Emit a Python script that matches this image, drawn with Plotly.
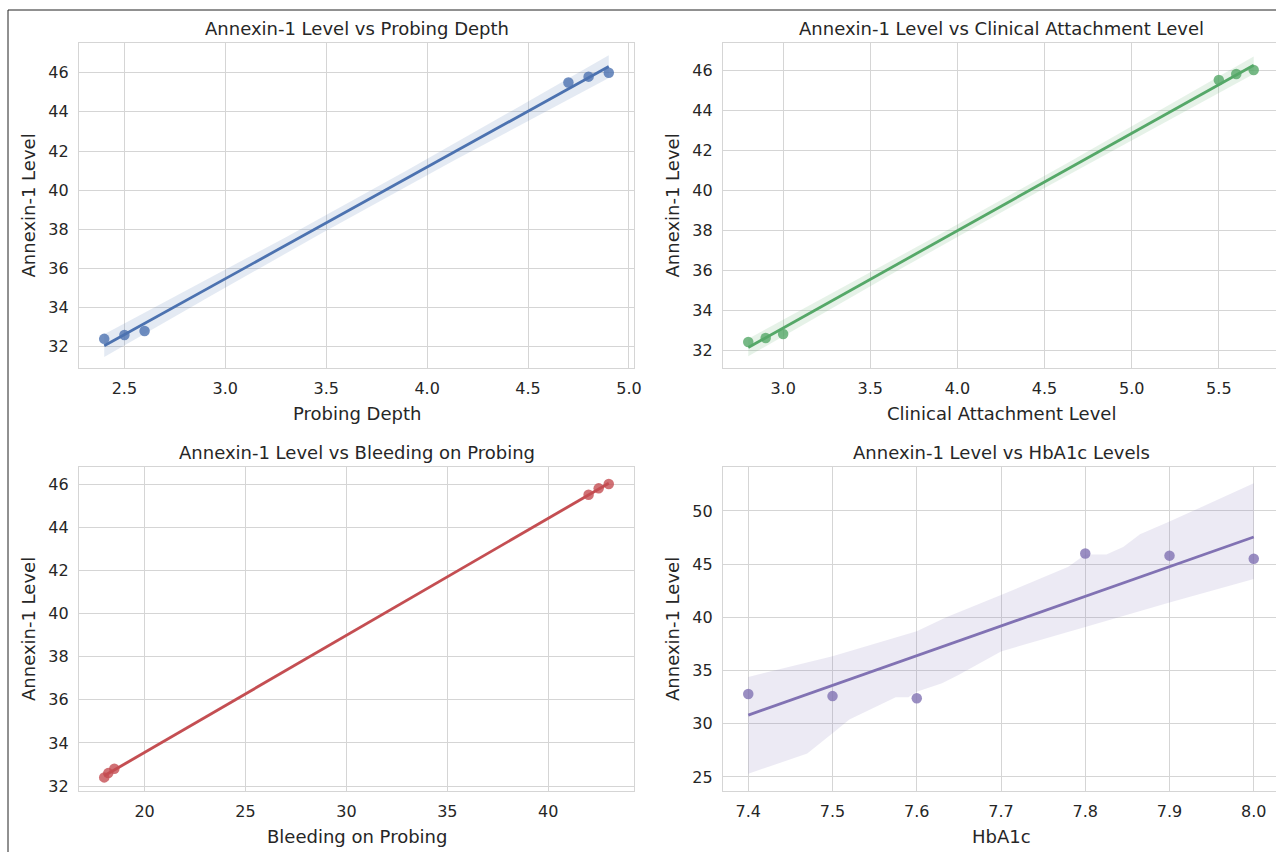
import numpy as np
import plotly.graph_objects as go

# ---------------- data ----------------
annexin = [32.4, 32.6, 32.8, 45.5, 45.8, 46.0]
probing_depth = [2.4, 2.5, 2.6, 4.7, 4.8, 4.9]
clinical_attachment = [2.8, 2.9, 3.0, 5.5, 5.6, 5.7]
bleeding_on_probing = [18.0, 18.2, 18.5, 42.0, 42.5, 43.0]
hba1c = [7.6, 7.5, 7.4, 8.0, 7.9, 7.8]

# confidence band of the HbA1c panel (bootstrap shaped)
hba1c_band_x_upper = [7.4, 7.5, 7.6, 7.635, 7.7, 7.78, 7.8, 7.825, 7.845, 7.865, 7.9, 8.0]
hba1c_band_upper = [34.4, 36.35, 38.7, 40.0, 42.1, 44.75, 45.9, 45.9, 46.6, 47.8, 49.0, 52.6]
hba1c_band_x_lower = [7.4, 7.47, 7.5, 7.52, 7.575, 7.59, 7.6, 7.63, 7.65, 7.7, 7.8, 7.9, 8.0]
hba1c_band_lower = [25.3, 27.2, 29.1, 30.4, 32.5, 32.5, 33.0, 33.8, 34.6, 36.8, 39.1, 41.4, 43.6]

titles = ["Annexin-1 Level vs Probing Depth",
          "Annexin-1 Level vs Clinical Attachment Level",
          "Annexin-1 Level vs Bleeding on Probing",
          "Annexin-1 Level vs HbA1c Levels"]
xlabels = ["Probing Depth", "Clinical Attachment Level", "Bleeding on Probing", "HbA1c"]
ylabel = "Annexin-1 Level"

colors = ["#4C72B0", "#55A868", "#C44E52", "#8172B3"]
fills = ["rgba(76,114,176,0.15)", "rgba(85,168,104,0.15)",
         "rgba(196,78,82,0.15)", "rgba(129,114,179,0.15)"]

x_ticks = [[2.5, 3.0, 3.5, 4.0, 4.5, 5.0],
           [3.0, 3.5, 4.0, 4.5, 5.0, 5.5],
           [20, 25, 30, 35, 40],
           [7.4, 7.5, 7.6, 7.7, 7.8, 7.9, 8.0]]
x_fmt = [".1f", ".1f", "d", ".1f"]
y_ticks = [[32, 34, 36, 38, 40, 42, 44, 46]] * 3 + [[25, 30, 35, 40, 45, 50]]
x_ranges = [[2.275, 5.025], [2.655, 5.828], [16.75, 44.25], [7.37, 8.0264]]
y_ranges = [[30.91, 47.52], [31.1, 47.35], [31.77, 46.79], [23.68, 54.13]]

W, H = 1276, 852
# axes boxes in pixels: (left, right, top, bottom)
boxes = [(79, 634, 43, 368), (723, 1276, 43, 368),
         (79, 634, 467, 791), (723, 1276, 467, 791)]

T_CRIT = 2.7764  # Student t, 97.5 %, 4 degrees of freedom


def fit_band(x, y, n=100):
    x = np.asarray(x, float)
    y = np.asarray(y, float)
    slope, intercept = np.polyfit(x, y, 1)
    xs = np.linspace(x.min(), x.max(), n)
    yhat = intercept + slope * xs
    resid = y - (intercept + slope * x)
    s = np.sqrt(np.sum(resid ** 2) / (len(x) - 2))
    sxx = np.sum((x - x.mean()) ** 2)
    se = s * np.sqrt(1.0 / len(x) + (xs - x.mean()) ** 2 / sxx)
    return xs, yhat, yhat + T_CRIT * se, yhat - T_CRIT * se


xdata = [probing_depth, clinical_attachment, bleeding_on_probing, hba1c]

fig = go.Figure()
font_family = "DejaVu Sans"
txt = "#262626"
grid = "#d5d5d5"

annotations = []
for i in range(4):
    ax = "" if i == 0 else str(i + 1)
    xa, ya = "x" + ax, "y" + ax
    xs, yhat, up, lo = fit_band(xdata[i], annexin)
    if i == 3:
        bx = list(hba1c_band_x_upper) + list(hba1c_band_x_lower)[::-1]
        by = list(hba1c_band_upper) + list(hba1c_band_lower)[::-1]
    else:
        bx = list(xs) + list(xs[::-1])
        by = list(up) + list(lo[::-1])
    fig.add_trace(go.Scatter(x=bx, y=by, fill="toself", fillcolor=fills[i],
                             line=dict(width=0), mode="lines", hoverinfo="skip",
                             showlegend=False, xaxis=xa, yaxis=ya))
    fig.add_trace(go.Scatter(x=xs, y=yhat, mode="lines",
                             line=dict(color=colors[i], width=2.8),
                             showlegend=False, xaxis=xa, yaxis=ya))
    fig.add_trace(go.Scatter(x=xdata[i], y=annexin, mode="markers",
                             marker=dict(color=colors[i], size=10.5, opacity=0.8,
                                         line=dict(width=0)),
                             showlegend=False, xaxis=xa, yaxis=ya))

    l, r, t, b = boxes[i]
    xd = [l / W, r / W]
    yd = [1 - b / H, 1 - t / H]
    common = dict(showgrid=True, gridcolor=grid, gridwidth=1, showline=True,
                  linecolor=grid, linewidth=1.2, mirror=True, zeroline=False,
                  automargin=False,
                  ticks="", tickfont=dict(family=font_family, size=16, color=txt),
                  ticklabelstandoff=6)
    fig.layout["xaxis" + ax] = dict(domain=xd, range=x_ranges[i], anchor=ya,
                                    tickvals=x_ticks[i], tickformat=x_fmt[i], **common)
    fig.layout["yaxis" + ax] = dict(domain=yd, range=y_ranges[i], anchor=xa,
                                    tickvals=y_ticks[i], **common)

    cx = (l + r) / 2 if i % 2 == 0 else (l + 1279) / 2
    annotations.append(dict(text=titles[i], x=cx / W, y=1 - (t - 14) / H,
                            xref="paper", yref="paper", showarrow=False,
                            xanchor="center", yanchor="middle",
                            font=dict(family=font_family, size=18, color=txt)))
    annotations.append(dict(text=xlabels[i], x=cx / W, y=1 - (b + 45) / H,
                            xref="paper", yref="paper", showarrow=False,
                            xanchor="center", yanchor="middle",
                            font=dict(family=font_family, size=18, color=txt)))
    annotations.append(dict(text=ylabel, x=(l - 51) / W, y=1 - ((t + b) / 2) / H,
                            xref="paper", yref="paper", showarrow=False,
                            xanchor="center", yanchor="middle", textangle=-90,
                            font=dict(family=font_family, size=18, color=txt)))

shapes = [
    dict(type="line", xref="paper", yref="paper", x0=8 / W, x1=1.0,
         y0=1 - 10 / H, y1=1 - 10 / H, line=dict(color="#222222", width=1)),
    dict(type="line", xref="paper", yref="paper", x0=8 / W, x1=8 / W,
         y0=0, y1=1 - 10 / H, line=dict(color="#222222", width=1)),
]

fig.update_layout(width=W, height=H, margin=dict(l=0, r=0, t=0, b=0),
                  paper_bgcolor="white", plot_bgcolor="white",
                  annotations=annotations, shapes=shapes,
                  font=dict(family=font_family, color=txt))

fig.write_html("out.html", config={"displayModeBar": False},
               post_script="document.body.style.margin='0px';"
                           "document.body.style.overflow='hidden';")
